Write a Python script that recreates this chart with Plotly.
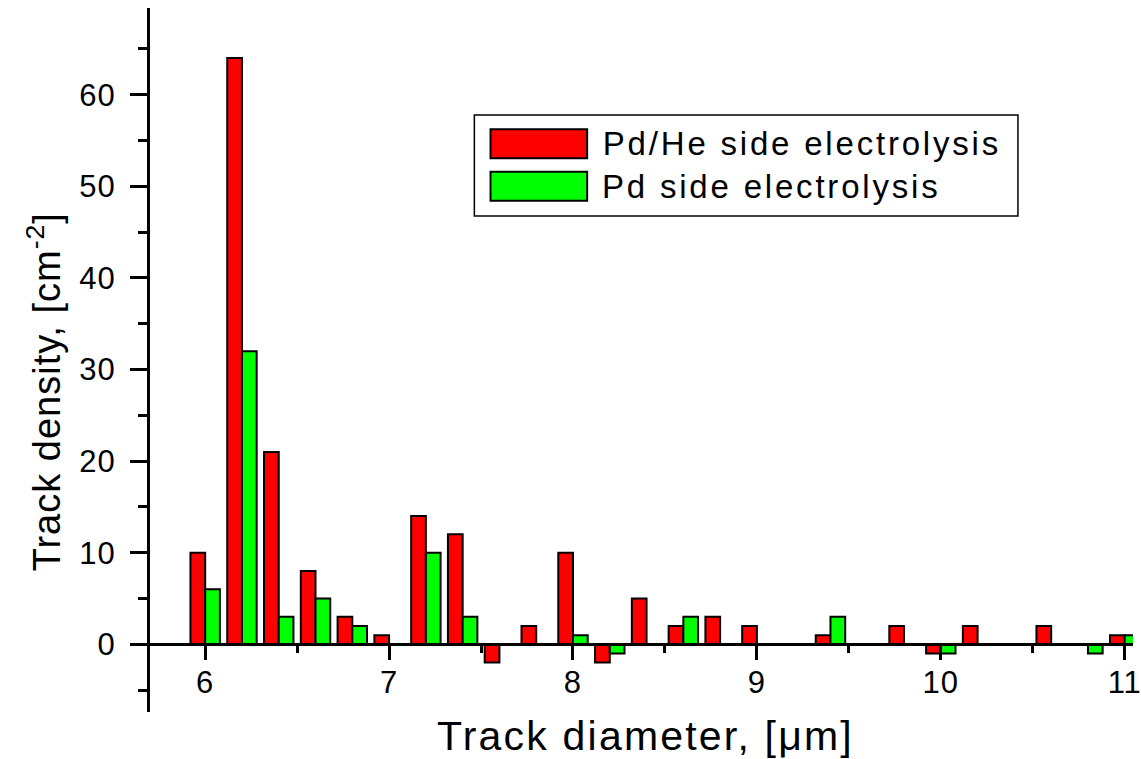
import plotly.graph_objects as go

# ---- data ----
diameters = [6.0, 6.2, 6.4, 6.6, 6.8, 7.0, 7.2, 7.4, 7.6, 7.8, 8.0, 8.2, 8.4,
             8.6, 8.8, 9.0, 9.2, 9.4, 9.6, 9.8, 10.0, 10.2, 10.4, 10.6, 10.8, 11.0]
pd_he = [10, 64, 21, 8, 3, 1, 14, 12, -2, 2, 10, -2, 5,
         2, 3, 2, 0, 1, 0, 2, -1, 2, 0, 2, 0, 1]
pd_only = [6, 32, 3, 5, 2, 0, 10, 3, 0, 0, 1, -1, 0,
           3, 0, 0, 0, 3, 0, 0, -1, 0, 0, 0, -1, 1]
series_names = ["Pd/He side electrolysis", "Pd side electrolysis"]
series_colors = ["#FF0000", "#00FF00"]
x_title = "Track diameter, [\u03bcm]"
y_title = "Track density, [cm<sup>-2</sup>]"

W, H = 1141, 759
L, R, T, B = 150, 0, 8, 47
XR = [5.700, 11.045]
YR = [-7.39, 69.46]
FONT = "Liberation Sans, Arial, sans-serif"
LEG_SPACING = 2.8

def px(xp):
    return (xp - L) / (W - L - R)

def py(yp):
    return (H - B - yp) / (H - T - B)

fig = go.Figure()
for name, vals, col in zip(series_names, [pd_he, pd_only], series_colors):
    fig.add_trace(go.Bar(x=diameters, y=vals, name=name,
                         marker=dict(color=col, line=dict(color="black", width=2))))

x_pos = (0 - YR[0]) / (YR[1] - YR[0])

fig.update_layout(
    width=W, height=H,
    margin=dict(l=L, r=R, t=T, b=B, pad=0),
    paper_bgcolor="white", plot_bgcolor="white",
    barmode="group", bargap=0.2, bargroupgap=0,
    showlegend=False,
    font=dict(family=FONT, color="black"),
    xaxis=dict(range=XR, anchor="free", position=x_pos, showline=True,
               linecolor="black", linewidth=3, showgrid=False, zeroline=False,
               ticks="outside", ticklen=14, tickwidth=3, tickcolor="black",
               tick0=0, dtick=1, tickfont=dict(size=31, family=FONT, color="black"),
               ticklabeloverflow="allow", ticklabelstandoff=-5,
               minor=dict(ticks="outside", ticklen=7, tickwidth=3,
                          tickcolor="black", dtick=0.5, tick0=0)),
    yaxis=dict(range=YR, showline=True, linecolor="black", linewidth=3,
               showgrid=False, zeroline=False,
               ticks="outside", ticklen=17, tickwidth=3, tickcolor="black",
               tick0=0, dtick=10, tickfont=dict(size=31, family=FONT, color="black"),
               ticklabelstandoff=8,
               minor=dict(ticks="outside", ticklen=9, tickwidth=3,
                          tickcolor="black", dtick=5, tick0=0)),
)

# axis titles
fig.add_annotation(text=x_title, xref="paper", yref="paper",
                   x=px(650), y=py(736), xanchor="center", yanchor="middle",
                   showarrow=False, font=dict(size=41, family=FONT, color="black"))
fig.add_annotation(text=y_title, xref="paper", yref="paper",
                   x=px(43), y=py(392), xanchor="center", yanchor="middle",
                   textangle=-90, showarrow=False,
                   font=dict(size=38, family=FONT, color="black"))

# legend box drawn manually
fig.add_shape(type="rect", xref="paper", yref="paper",
              x0=px(477), x1=px(1025), y0=py(216), y1=py(115),
              line=dict(color="black", width=1.5), fillcolor="white", layer="above")
legend_rows = [(129.3, 158.3), (171.7, 200.7)]
for (top, bot), name, col in zip(legend_rows, series_names, series_colors):
    fig.add_shape(type="rect", xref="paper", yref="paper",
                  x0=px(493.3), x1=px(590.7), y0=py(bot), y1=py(top),
                  line=dict(color="black", width=2), fillcolor=col, layer="above")
    fig.add_annotation(text=name, xref="paper", yref="paper",
                       x=px(604), y=py((top + bot) / 2), xanchor="left",
                       yanchor="middle", showarrow=False,
                       xshift=len(name) * LEG_SPACING / 2,
                       font=dict(size=33, family=FONT, color="black"))

post = """
var anns = document.querySelectorAll('.annotation-text');
anns.forEach(function(t, i){
  var sp = '2.8px';
  if (i === 0) sp = '2.2px';
  if (i === 1) sp = '1px';
  t.style.letterSpacing = sp;
});
document.querySelectorAll('.xtick text, .ytick text').forEach(function(t){t.style.letterSpacing='1px';});
"""
fig.write_html("out.html", post_script=post)
